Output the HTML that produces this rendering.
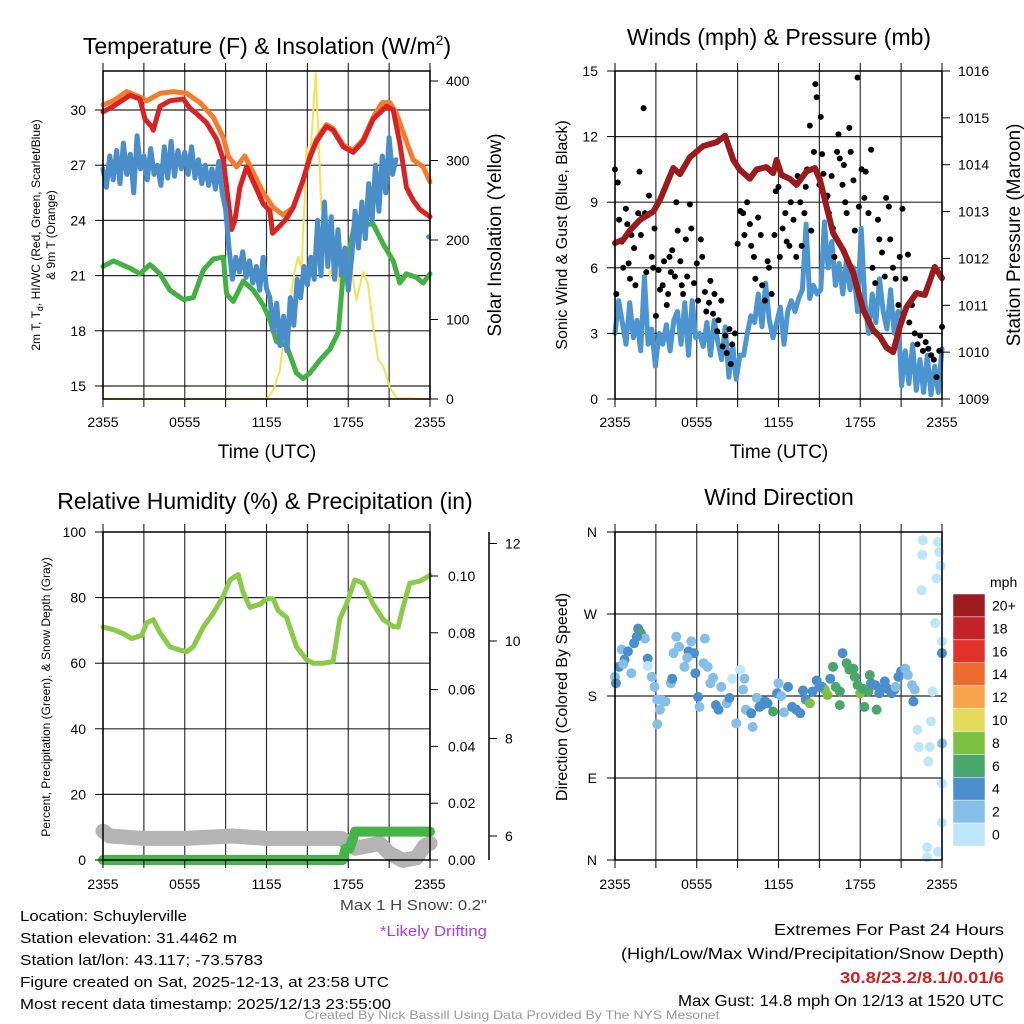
<!DOCTYPE html>
<html><head><meta charset="utf-8"><style>
html,body{margin:0;padding:0;background:#fff}
svg{display:block;font-family:"Liberation Sans",sans-serif}
</style></head><body>
<svg id="fig" width="1024" height="1024" viewBox="0 0 1024 1024" xmlns="http://www.w3.org/2000/svg">
<g id="grids"></g>
<g id="marks"></g>
<g id="axes"></g>
<g id="texts">
<text x="267" y="54" font-size="23" text-anchor="middle">Temperature (F) &amp; Insolation (W/m<tspan dy="-9" font-size="14">2</tspan><tspan dy="9">)</tspan></text>
<text x="779" y="45" font-size="23" text-anchor="middle">Winds (mph) &amp; Pressure (mb)</text>
<text x="265" y="509" font-size="23" text-anchor="middle">Relative Humidity (%) &amp; Precipitation (in)</text>
<text x="779" y="505" font-size="23" text-anchor="middle">Wind Direction</text>
<text x="267" y="458" font-size="19" text-anchor="middle">Time (UTC)</text>
<text x="779" y="458" font-size="19" text-anchor="middle">Time (UTC)</text>
<text transform="translate(40,235) rotate(-90)" font-size="12" text-anchor="middle">2m T, T<tspan dy="3" font-size="9">d</tspan><tspan dy="-3">, HI/WC (Red, Green, Scarlet/Blue)</tspan></text>
<text transform="translate(55,235) rotate(-90)" font-size="12" text-anchor="middle">&amp; 9m T (Orange)</text>
<text transform="translate(501,235) rotate(-90)" font-size="19" text-anchor="middle">Solar Insolation (Yellow)</text>
<text transform="translate(567,235) rotate(-90)" font-size="16" text-anchor="middle">Sonic Wind &amp; Gust (Blue, Black)</text>
<text transform="translate(1020,235) rotate(-90)" font-size="19" text-anchor="middle">Station Pressure (Maroon)</text>
<text transform="translate(50,697) rotate(-90)" font-size="12" text-anchor="middle">Percent, Precipitation (Green), &amp; Snow Depth (Gray)</text>
<text transform="translate(567,697) rotate(-90)" font-size="16" text-anchor="middle">Direction (Colored By Speed)</text>
<text x="487" y="910" font-size="15" fill="#444" text-anchor="end" textLength="147" lengthAdjust="spacingAndGlyphs">Max 1 H Snow: 0.2"</text>
<text x="487" y="936" font-size="15" fill="#a040f0" text-anchor="end" textLength="107" lengthAdjust="spacingAndGlyphs">*Likely Drifting</text>
<text x="20" y="921" font-size="15" textLength="167" lengthAdjust="spacingAndGlyphs">Location: Schuylerville</text>
<text x="20" y="943" font-size="15" textLength="217" lengthAdjust="spacingAndGlyphs">Station elevation: 31.4462 m</text>
<text x="20" y="965" font-size="15" textLength="243" lengthAdjust="spacingAndGlyphs">Station lat/lon: 43.117; -73.5783</text>
<text x="20" y="987" font-size="15" textLength="369" lengthAdjust="spacingAndGlyphs">Figure created on Sat, 2025-12-13, at 23:58 UTC</text>
<text x="20" y="1009" font-size="15" textLength="371" lengthAdjust="spacingAndGlyphs">Most recent data timestamp: 2025/12/13 23:55:00</text>
<text x="1004" y="935" font-size="16" text-anchor="end" textLength="230" lengthAdjust="spacingAndGlyphs">Extremes For Past 24 Hours</text>
<text x="1004" y="959" font-size="16" text-anchor="end" textLength="383" lengthAdjust="spacingAndGlyphs">(High/Low/Max Wind/Precipitation/Snow Depth)</text>
<text x="1004" y="983" font-size="16" font-weight="bold" fill="#d02020" text-anchor="end" textLength="164" lengthAdjust="spacingAndGlyphs">30.8/23.2/8.1/0.01/6</text>
<text x="1004" y="1006" font-size="16" text-anchor="end" textLength="326" lengthAdjust="spacingAndGlyphs">Max Gust: 14.8 mph On 12/13 at 1520 UTC</text>
<text x="512" y="1019" font-size="12" fill="#999" text-anchor="middle" textLength="415" lengthAdjust="spacingAndGlyphs">Created By Nick Bassill Using Data Provided By The NYS Mesonet</text>
<text x="990" y="587" font-size="14">mph</text>
</g>
<g id="cbar"></g>
</svg>
<script>
// ---------- data ----------
const xTickLabels = ["2355","0555","1155","1755","2355"];
const tempTicks = [15,18,21,24,27,30];
const solarTicks = [0,100,200,300,400];
const windTicks = [0,3,6,9,12,15];
const presTicks = [1009,1010,1011,1012,1013,1014,1015,1016];
const rhTicks = [0,20,40,60,80,100];
const precipTicks = [0,0.02,0.04,0.06,0.08,0.10];
const snowTicks = [6,8,10,12];
const dirLabels = ["N","E","S","W","N"];

const tempRedHours = [0,0.76,1.98,2.71,3.08,3.57,3.69,4.18,4.91,5.89,6.38,6.87,7.6,8.34,8.83,9.19,9.44,9.68,10.05,10.54,11.03,11.76,12.25,12.45,12.98,13.47,13.96,14.69,15.18,15.67,16.4,16.89,17.63,18.36,19.1,19.83,20.81,21.3,21.78,22.27,22.76,23.25,24];
const tempRed = [29.9,30.2,30.8,30.6,29.5,29.1,28.9,30.2,30.5,30.6,30.1,29.8,29.3,28.4,27.3,25.1,23.5,24,25.8,26.9,26.1,24.9,24.5,23.3,23.7,24.1,24.7,26.2,27.4,28.3,29.1,28.9,28.0,27.7,28.3,29.5,30.2,30.0,28.2,25.8,25.1,24.6,24.2];
const tempOrangeHours = [0,0.76,1.74,2.71,3.2,4.18,5.16,6.14,7.12,8.1,8.83,9.19,9.8,10.41,11.03,11.76,12.49,13.22,13.96,14.69,15.18,15.67,16.4,16.89,17.63,18.36,19.1,19.83,20.5,21.05,21.54,22.27,22.76,23.5,24];
const tempOrange = [30.27,30.5,31.0,30.7,30.5,30.9,31.0,30.9,30.4,29.6,28.5,27.5,26.9,27.5,26.6,25.5,24.7,24.3,24.7,26.2,27.5,28.4,29.2,29.0,28.1,27.8,28.4,29.6,30.4,30.4,29.8,28.3,27.3,26.9,26.1];
const tempDewHours = [0,0.76,1.98,2.71,3.45,4.18,4.91,5.89,6.63,7.36,8.1,8.83,9.07,9.56,10.29,11.03,11.76,12.25,12.74,13.47,14.2,14.69,15.18,15.91,16.65,17.26,17.63,18.12,18.6,19.34,19.83,20.57,21.3,21.78,22.27,23.0,23.5,24];
const tempDew = [21.5,21.8,21.4,21.1,21.6,21.1,20.2,19.7,19.8,21.3,21.9,22.0,20.0,19.6,20.7,20.2,19.4,18.6,17.4,17.2,15.7,15.4,15.7,16.4,17.0,17.9,21.1,22.6,24.2,23.8,23.8,22.7,21.8,20.6,21.1,20.9,20.6,21.1];
// heat index / wind chill at 15-minute steps from 2355
const tempHiwc = [26.8,25.8,27.5,26.2,27.8,26.0,28.2,26.5,27.6,25.5,28.6,26.8,27.5,26.2,27.9,26.5,27.0,25.9,28.0,26.3,28.3,26.4,27.8,26.8,27.7,26.5,28.0,26.3,27.3,26.0,27.0,25.9,26.8,25.7,27.2,25.5,24.6,
 22.5,20.8,22.0,21.2,22.3,20.9,21.8,20.6,21.5,20.2,22.0,20.3,
 19.8,18.0,19.5,17.2,18.8,16.9,19.8,18.3,20.8,19.8,21.5,20.5,
 22.0,20.8,24.0,21.0,25.0,21.5,24.2,20.8,23.5,21.0,22.5,20.2,
 22.0,24.5,22.5,25.0,23.0,26.0,24.0,27.0,24.5,27.5,25.5,28.5,
 26.5,27.3];
const tempHiwcLast = [23.9,23.1];
const solarHours = [0,12.0,12.5,12.98,13.35,13.6,13.84,14.08,14.33,14.57,14.82,14.94,15.18,15.43,15.62,15.79,16.03,16.28,16.65,17.01,17.38,17.75,18.12,18.6,19.1,19.46,19.83,20.2,20.57,21.05,21.54,24];
const solar = [0,0,11,36,91,97,137,162,179,163,259,317,290,363,410,342,238,231,154,174,145,160,175,124,160,144,91,49,41,15,1,0];
const presHours = [0,0.61,1.1,1.83,2.81,3.3,4.28,4.77,5.5,6.48,7.46,8.07,8.68,9.17,9.9,10.39,11.12,11.61,11.86,12.22,12.84,13.33,14.06,14.67,15.04,15.53,16.01,16.75,17.48,18.22,18.95,19.44,19.93,20.42,20.9,21.39,22.12,22.74,23.47,24];
const pressure = [1012.33,1012.4,1012.6,1012.82,1013.0,1013.25,1013.93,1013.8,1014.16,1014.4,1014.48,1014.62,1014.1,1013.89,1013.7,1013.9,1013.95,1013.82,1014.1,1013.78,1013.7,1013.57,1013.86,1013.93,1013.68,1013.1,1012.54,1012.18,1011.69,1010.9,1010.47,1010.33,1010.1,1010.0,1010.54,1010.96,1011.26,1011.22,1011.82,1011.58];
// sonic wind, evenly spaced over 24 h
const windSpeed = [3.0,4.5,3.5,2.5,4.4,2.8,3.6,2.2,5.6,2.5,3.2,1.5,3.0,
 2.5,3.4,2.2,3.6,4.0,2.5,4.4,2.0,4.5,2.8,3.0,
 2.4,3.5,2.0,3.6,2.6,1.8,3.3,1.0,2.5,0.9,2.0,
 2.0,3.0,3.8,3.5,4.8,3.3,5.3,3.6,2.8,3.5,4.2,
 2.5,4.0,4.5,4.0,4.6,5.0,8.0,4.6,5.2,4.8,5.0,
 8.1,6.0,7.2,5.2,6.2,4.8,6.4,5.0,6.0,4.0,7.8,
 4.5,3.0,4.8,3.5,5.5,4.0,3.2,5.0,3.0,4.0,0.6,
 2.2,0.7,2.5,0.4,1.8,0.3,2.0,0.2,1.5,0.3,2.3];
const gustHours = [0,0.1,0.2,0.3,0.5,0.6,0.8,0.9,1.0,1.1,1.2,1.4,1.5,1.7,1.8,1.9,2.0,2.1,2.2,2.3,2.4,2.5,2.7,2.8,2.9,3.0,3.2,3.3,3.5,3.6,3.8,3.9,4.0,4.1,4.2,4.4,4.5,4.6,4.8,4.9,5.0,5.2,5.3,5.5,5.6,5.8,6.0,6.1,6.3,6.4,6.6,6.7,6.9,7.0,7.2,7.3,7.5,7.6,7.8,7.9,8.1,8.2,8.4,8.5,8.6,8.8,9.0,9.2,9.4,9.5,9.7,9.9,10.0,10.2,10.3,10.5,10.7,10.8,11.0,11.2,11.3,11.5,11.7,11.8,12.0,12.1,12.3,12.5,12.6,12.8,12.9,13.1,13.3,13.4,13.6,13.7,13.9,14.0,14.1,14.3,14.4,14.6,14.7,14.8,15.0,15.1,15.2,15.3,15.5,15.6,15.7,15.9,16.0,16.1,16.3,16.4,16.5,16.7,16.8,16.9,17.0,17.2,17.3,17.5,17.6,17.8,17.9,18.1,18.3,18.4,18.6,18.8,18.9,19.1,19.3,19.4,19.6,19.8,19.9,20.1,20.2,20.4,20.6,20.8,20.9,21.1,21.3,21.5,21.6,21.8,22.0,22.2,22.4,22.6,22.8,23.0,23.2,23.4,23.6,23.8,24.0];
const gustValues = [10.5,4.8,9.9,8.2,7.2,6.0,8.7,8.0,6.2,5.5,7.5,6.9,5.2,8.5,10.4,7.5,8.3,13.3,8.5,5.8,8.4,9.3,6.5,6.0,7.8,3.8,5.9,5.0,5.2,6.3,4.3,4.8,6.5,5.8,6.8,5.6,9.0,7.7,6.3,5.2,4.8,7.3,5.6,8.9,7.8,5.3,6.2,4.5,7.3,6.5,4.9,4.0,4.4,5.4,3.9,4.8,3.1,3.6,4.5,2.4,2.9,2.1,3.2,1.6,2.5,3.0,7.1,8.6,8.5,7.5,9.0,8.0,7.0,6.5,5.5,8.3,7.5,5.2,4.5,6.3,6.0,4.8,7.5,9.5,9.7,6.5,7.8,8.5,7.2,7.0,9.0,8.2,6.5,10.2,9.0,7.0,8.5,9.7,10.5,12.5,7.7,11.3,14.4,13.8,9.8,12.9,11.2,10.3,9.2,9.3,8.5,10.2,7.8,6.5,11.3,12.1,11.0,9.8,10.7,9.0,8.5,12.4,11.3,10.0,7.7,14.7,8.8,10.5,9.2,10.4,8.5,11.4,6.0,5.3,8.2,7.3,6.7,5.6,9.2,8.8,7.3,6.0,5.5,4.3,6.5,8.7,5.5,6.6,3.5,4.3,3.0,2.5,2.9,2.2,2.6,2.3,2.0,1.8,1.0,2.2,3.3,2.2];
const rhHours = [0,0.78,1.5,2.11,2.85,3.2,3.69,4.18,4.91,5.65,6.14,6.63,7.36,8.1,8.83,9.32,9.93,10.29,10.78,11.52,12.0,12.5,12.86,13.47,14.2,14.94,15.43,16.16,16.89,17.38,17.87,18.48,19.1,19.83,20.57,21.3,21.66,22.03,22.52,23.25,24];
const rhValues = [71.0,70.2,69.0,67.5,68.5,72.3,73.3,69.3,65.0,64.0,63.5,65.0,71.0,75.3,80.5,85.4,87.0,81.5,77.0,78.0,79.6,79.6,76.0,74.0,65.0,61.0,60.0,60.0,60.5,73.5,78.0,85.4,84.4,78.0,73.3,71.2,71.0,77.3,84.4,85.0,86.8];
const precipHours = [0,17.6,17.8,18.1,18.5,24];
const precipValues = [0,0,0.004,0.004,0.01,0.01];
const snowHours = [0,0.5,3,6,9.5,12,17.5,18.5,19.5,20.3,21,22,23,23.6,24];
const snowValues = [6.1,6.0,5.95,5.95,6.0,5.95,5.95,5.75,5.8,5.85,5.65,5.5,5.55,5.8,5.85];
const dirHours = [0,0.07,0.3,0.5,0.7,0.95,1.2,1.4,1.7,1.9,2.2,2.4,2.4,2.7,2.9,3.1,3.3,3.1,3.7,4.1,4.2,4.3,4.5,4.7,5.1,5.4,5.6,5.8,5.9,6.2,6.1,6.6,6.5,6.8,7.0,7.4,7.6,7.8,8.2,8.6,8.9,9.2,9.4,9.5,9.6,10.0,10.1,10.4,10.6,11.0,11.2,11.6,11.9,12.0,12.4,12.7,13.0,13.3,13.6,14.0,14.3,14.5,14.8,15.2,15.4,15.6,15.8,16.0,16.2,16.5,16.5,16.7,17.0,17.2,17.5,17.6,17.8,18.0,18.2,18.3,18.6,18.7,18.8,19.2,19.1,19.4,19.8,20.0,20.3,20.5,20.8,21.0,21.3,21.5,21.8,22.0,21.9,22.2,22.3,22.5,22.6,22.55,23.0,23.1,23.2,23.3,23.5,23.7,23.8,23.6,23.9,24,24,22.9,22.9,23.7,24,24,24, 0.6,1.6,3.5,5.3,7.2,8.4,10.8,12.2,13.8,15.0,19.6,20.6];
const dirDegrees = [201,194,212,231,220,229,205,238,254,249,243,221,213,201,190,176,165,149,174,194,199,227,245,234,212,229,240,227,205,168,179,243,216,212,194,170,165,190,172,199,150,209,187,199,165,161,146,178,168,174,172,163,183,194,162,190,168,165,161,176,172,185,197,190,187,181,199,212,190,185,170,227,216,209,210,201,192,183,188,168,185,203,194,165,192,183,196,188,183,187,201,207,210,203,192,187,174,143,124,296,351,335,108,124,152,185,260,349,338,309,323,84,41,14,3,9,128,227,240, 215,245,175,222,200,178,170,180,186,190,188,190];
const dirSpeeds = [3,4,4,3,4,4,3,4,4,7,3,4,1,3,3,3,3,3,3,3,4,3,3,3,3,4,3,4,4,3,4,3,3,3,3,4,4,3,3,1,3,1,3,3,3,4,3,3,4,4,4,7,4,3,3,4,4,4,4,4,9,4,4,4,9,9,4,7,7,7,7,4,7,7,7,7,7,9,7,7,7,7,4,7,4,4,4,4,4,4,4,4,3,3,3,3,4,1,1,1,1,1,1,1,1,1,1,1,1,1,1,1,1,1,1,1,3,4,1, 3,4,3,3,3,4,4,3,4,4,4,3];
const cbarLabels = ["20+","18","16","14","12","10","8","6","4","2","0"];
const cbarColors = ["#9b1c1f","#c4222b","#e0322b","#ee6a2e","#f6a54c","#e6da5c","#7cc142","#4aa76c","#4a8ecb","#85bfe7","#bde6fb"];

// ---------- helpers ----------
const NS = "http://www.w3.org/2000/svg";
function mk(tag, attrs, parent){const e=document.createElementNS(NS,tag);for(const k in attrs)e.setAttribute(k,attrs[k]);parent.appendChild(e);return e;}
const G = document.getElementById("grids"), M = document.getElementById("marks"), A = document.getElementById("axes"), CB = document.getElementById("cbar");

const P1 = {l:103,r:430,t:71,b:399}, P2 = {l:615,r:942,t:71,b:399}, P3 = {l:103,r:430,t:532,b:860}, P4 = {l:615,r:942,t:532,b:860};
const xs = (p,h)=>p.l+(p.r-p.l)*h/24;
const yTemp = v=>110+(30-v)*(386-110)/15;
const ySolar = v=>399-v*0.795;
const yWind = v=>399-v*(328/15);
const yPres = v=>399-(v-1009)*(328/7);
const yRH = v=>860-v*3.28;
const yPrecip = v=>860-v*2840;
const ySnow = v=>836-(v-6)*48.75;
const yDir = v=>860-v*(328/360);

function line(name,hours,vals,p,yf,color,w){
  const d = hours.map((h,i)=>(i?"L":"M")+xs(p,h).toFixed(1)+","+yf(vals[i]).toFixed(1)).join("");
  const el = mk("path",{d:d,fill:"none",stroke:color,"stroke-width":w,"stroke-linejoin":"round","stroke-linecap":"round"},M);
  
  
  return el;
}
function frame(p,name,vlines,hys){
  vlines.forEach(h=>{const x=xs(p,h);const el=mk("line",{x1:x,y1:p.t,x2:x,y2:p.b,stroke:"#000","stroke-width":1.2,"stroke-opacity":0.8},G);
    
    
    const t=mk("line",{x1:x,y1:p.t-8,x2:x,y2:p.t,stroke:"#000","stroke-width":1},A);
    
    
    const b=mk("line",{x1:x,y1:p.b,x2:x,y2:p.b+8,stroke:"#000","stroke-width":1},A);
    
    });
  hys.forEach(y=>{const el=mk("line",{x1:p.l,y1:y,x2:p.r,y2:y,stroke:"#000","stroke-width":1.2,"stroke-opacity":0.85},G);
    
    });
  const r=mk("rect",{x:p.l,y:p.t,width:p.r-p.l,height:p.b-p.t,fill:"none",stroke:"#000","stroke-width":1.5},A);
  
  
}
function ylabels(name,ticks,yf,x,anchor,tickX1,tickX2,fmt){
  ticks.forEach(v=>{const y=yf(v);
    const t=mk("line",{x1:tickX1,y1:y,x2:tickX2,y2:y,stroke:"#000","stroke-width":1},A);
    
    
    const tx=mk("text",{x:x,y:y+5,"font-size":14,"text-anchor":anchor},A);
    tx.textContent = fmt?fmt(v):String(v);
    
    });
}
function xlabels(p,name,y){
  xTickLabels.forEach((s,i)=>{const tx=mk("text",{x:xs(p,i*6),y:y,"font-size":14,"text-anchor":"middle"},A);
    tx.textContent=s;
    
    });
}
const threeH=[0,3,6,9,12,15,18,21,24];

// ---------- panel 1 ----------
frame(P1,"temp",threeH,tempTicks.map(yTemp));
ylabels("temp-y",tempTicks,yTemp,86,"end",95,103);
ylabels("solar-y",solarTicks,ySolar,446,"start",430,438);
xlabels(P1,"temp",427);
line("solar-line",solarHours,solar,P1,ySolar,"#f8df55",2);
line("dewpoint-line",tempDewHours,tempDew,P1,yTemp,"#42b043",5);
line("temp-9m-line",tempOrangeHours,tempOrange,P1,yTemp,"#f47c2a",5);
line("temp-2m-line",tempRedHours,tempRed,P1,yTemp,"#d72226",5);
line("hiwc-line",tempHiwc.map((v,i)=>i*0.25),tempHiwc,P1,yTemp,"#4a8ec9",5);
{const c=mk("circle",{cx:xs(P1,tempHiwcLast[0]),cy:yTemp(tempHiwcLast[1]),r:2.5,fill:"#4a8ec9"},M);
 
 }

// ---------- panel 2 ----------
frame(P2,"wind",threeH,windTicks.slice(1,5).map(yWind));
ylabels("wind-y",windTicks,yWind,598,"end",607,615);
ylabels("pressure-y",presTicks,yPres,958,"start",942,950);
xlabels(P2,"wind",427);
line("wind-speed-line",windSpeed.map((v,i)=>i*24/(windSpeed.length-1)),windSpeed,P2,yWind,"#4d95d0",5);
gustHours.forEach((h,i)=>{const c=mk("circle",{cx:xs(P2,h),cy:yWind(gustValues[i]),r:3,fill:"#000"},M);
  
  });
line("pressure-line",presHours,pressure,P2,yPres,"#9b1a1c",6);

// ---------- panel 3 ----------
frame(P3,"rh",threeH,rhTicks.slice(1,5).map(yRH));
ylabels("rh-y",rhTicks,yRH,86,"end",95,103);
ylabels("precip-y",precipTicks,yPrecip,448,"start",430,438,v=>v.toFixed(2));
xlabels(P3,"rh",889);
{const ax=mk("line",{x1:489,y1:532,x2:489,y2:860,stroke:"#000","stroke-width":1.5},A);
 
 }
ylabels("snow-y",snowTicks,ySnow,505,"start",489,497);
line("snow-depth-line",snowHours,snowValues,P3,ySnow,"#b4b4b4",15);
line("precip-line",precipHours,precipValues,P3,yPrecip,"#45b449",10);
line("rh-line",rhHours,rhValues,P3,yRH,"#8bc948",5);

// ---------- panel 4 ----------
frame(P4,"dir",threeH,[90,180,270].map(yDir));
dirLabels.forEach((s,i)=>{const y=yDir(i*90);
  const t=mk("line",{x1:607,y1:y,x2:615,y2:y,stroke:"#000","stroke-width":1},A);
  
  
  const tx=mk("text",{x:597,y:y+5,"font-size":14,"text-anchor":"end"},A);
  tx.textContent=s;
  
  });
xlabels(P4,"dir",889);
function speedColor(s){const idx=Math.min(10,Math.floor(s/2));return cbarColors[10-idx];}
dirHours.forEach((h,i)=>{const c=mk("circle",{cx:xs(P4,h),cy:yDir(dirDegrees[i]),r:5,fill:speedColor(dirSpeeds[i])},M);
  
  });

// ---------- colorbar ----------
cbarColors.forEach((c,i)=>{const bh=252/11;const y=594+i*bh;
  const r=mk("rect",{x:953,y:y,width:32,height:bh,fill:c,stroke:"#fff","stroke-width":0.5},CB);
  
  
  const tx=mk("text",{x:992,y:y+bh/2+5,"font-size":14},CB);
  tx.textContent=cbarLabels[i];
  
  });
</script>
</body></html>
